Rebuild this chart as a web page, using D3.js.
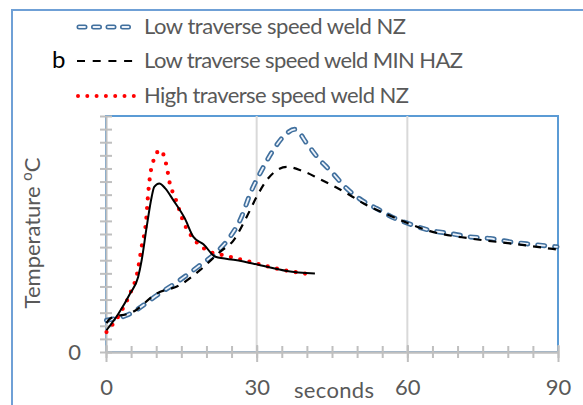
<!DOCTYPE html>
<html>
<head>
<meta charset="utf-8">
<script src="https://cdn.jsdelivr.net/npm/d3@7"></script>
<style>
  body { margin: 0; background: #fff; }
  svg text { font-family: Lato, "Open Sans", sans-serif; fill: #595959; }
</style>
</head>
<body>
<div id="chart"></div>
<script>
// Temperature curves (seconds vs. temperature)
var legendLabels = ["Low traverse speed weld NZ", "Low traverse speed weld MIN HAZ", "High traverse speed weld NZ"];
var xTickValues = [0, 30, 60, 90];

// low traverse speed, nugget zone
var lowNZ_t = [0.1, 4.1, 10.8, 14.7, 18.7, 22.1, 24.7, 26.7, 29.0, 31.0, 33.3, 36.0, 37.6, 40.0, 42.3, 44.9, 47.9, 50.9, 53.9, 57.6, 60.2, 64.5, 68.5, 72.5, 76.5, 80.5, 84.5, 89.8];
var lowNZ_T = [121, 140, 225, 274, 331, 382, 439, 503, 617, 693, 770, 834, 849, 795, 738, 687, 624, 579, 547, 509, 490, 464, 452, 439, 433, 420, 411, 401];

// low traverse speed, min HAZ
var lowHAZ_t = [0.1, 0.8, 5.4, 10.1, 14.7, 18.7, 22.7, 25.4, 28.0, 30.0, 32.0, 34.0, 36.0, 39.0, 42.3, 45.6, 48.6, 51.3, 54.9, 57.9, 64.5, 72.5, 80.5, 89.8];
var lowHAZ_T = [110, 127, 153, 223, 255, 312, 382, 426, 515, 592, 655, 693, 706, 691, 662, 630, 598, 566, 534, 509, 461, 433, 414, 391];

// high traverse speed, nugget zone
var highNZ_t = [0.1, 2.8, 4.8, 6.2, 7.1, 8.0, 8.4, 9.1, 10.8, 12.1, 12.7, 13.7, 15.7, 17.7, 20.7, 23.4, 28.7, 34.0, 40.3];
var highNZ_T = [76, 147, 223, 299, 401, 503, 605, 706, 770, 706, 643, 592, 484, 426, 382, 369, 344, 318, 297];

// high traverse speed, min HAZ (solid, not in legend)
var highHAZ_t = [0.1, 2.5, 4.8, 6.4, 7.1, 8.1, 9.1, 9.6, 10.6, 11.8, 13.4, 15.7, 17.4, 19.4, 21.8, 26.1, 30.7, 36.0, 41.6];
var highHAZ_T = [83, 147, 223, 286, 350, 477, 592, 630, 643, 624, 579, 509, 439, 411, 363, 350, 331, 309, 299];

function pairs(t, T) { return t.map(function (d, i) { return { t: d, T: T[i] }; }); }

var W = 583, H = 405;
var svg = d3.select("#chart").append("svg")
  .attr("width", W)
  .attr("height", H);

// outer chart border
svg.append("rect")
  .attr("x", 12).attr("y", 10)
  .attr("width", 620).attr("height", 430)
  .attr("fill", "none")
  .attr("stroke", "#6fa0d6")
  .attr("stroke-width", 2);

var xScale = d3.scaleLinear().domain([0, 90]).range([106, 558]);
var yScale = d3.scaleLinear().domain([0, 900]).range([352, 116]);

// plot area border
svg.append("rect")
  .attr("x", xScale(0)).attr("y", yScale(900))
  .attr("width", xScale(90) - xScale(0))
  .attr("height", yScale(0) - yScale(900))
  .attr("fill", "none")
  .attr("stroke", "#5b9bd5")
  .attr("stroke-width", 2);

// vertical gridlines
svg.selectAll(".grid")
  .data([30, 60])
  .enter().append("line")
  .attr("class", "grid")
  .attr("x1", d => xScale(d)).attr("x2", d => xScale(d))
  .attr("y1", yScale(900)).attr("y2", yScale(0))
  .attr("stroke", "#d9d9d9")
  .attr("stroke-width", 2);

// X axis: minor ticks
var xMinor = svg.append("g")
  .attr("transform", "translate(0," + yScale(0) + ")")
  .call(d3.axisBottom(xScale).tickValues(d3.range(0, 91, 5)).tickSize(6).tickSizeOuter(0).tickFormat(""));
xMinor.selectAll(".tick line").attr("y1", -6);

// X axis: major ticks + labels
var xMajor = svg.append("g")
  .attr("transform", "translate(0," + yScale(0) + ")")
  .call(d3.axisBottom(xScale).tickValues(xTickValues).tickSize(10).tickSizeOuter(0));
xMajor.selectAll(".tick line").attr("y1", -7);
xMajor.selectAll(".tick text").attr("y", 43).attr("dy", 0).style("font-size", "22px");

// Y axis
var yAxis = svg.append("g")
  .attr("transform", "translate(" + xScale(0) + ",0)")
  .call(d3.axisLeft(yScale).tickValues(d3.range(0, 901, 50)).tickSize(6).tickSizeOuter(0)
    .tickFormat(d => d === 0 ? "0" : "").tickPadding(19));
yAxis.selectAll(".tick line").attr("x1", 6);
yAxis.selectAll(".tick text").attr("dy", "0.36em").style("font-size", "22px");

svg.selectAll(".domain, .tick line")
  .attr("stroke", "#bfbfbf")
  .attr("stroke-width", 2);

// axis titles
svg.append("text")
  .attr("x", 334).attr("y", 398)
  .attr("text-anchor", "middle")
  .attr("textLength", 80)
  .style("font-size", "22px")
  .text("seconds");

var yTitle = svg.append("text")
  .attr("transform", "translate(40,233) rotate(-90)")
  .attr("text-anchor", "middle")
  .style("font-size", "22px");
yTitle.append("tspan").text("Temperature ");
yTitle.append("tspan").attr("dy", -8).style("font-size", "15px").text("o");
yTitle.append("tspan").attr("dy", 8).text("C");

// series
var line = d3.line()
  .x(d => xScale(d.t))
  .y(d => yScale(d.T))
  .curve(d3.curveMonotoneX);

var plot = svg.append("g");

// blue double-stroke dashed
plot.append("path")
  .datum(pairs(lowNZ_t, lowNZ_T))
  .attr("d", line)
  .attr("fill", "none")
  .attr("stroke", "#41709e")
  .attr("stroke-width", 5)
  .attr("stroke-linecap", "round")
  .attr("stroke-dasharray", "7 10");
plot.append("path")
  .datum(pairs(lowNZ_t, lowNZ_T))
  .attr("d", line)
  .attr("fill", "none")
  .attr("stroke", "#eef3fa")
  .attr("stroke-width", 1.8)
  .attr("stroke-linecap", "round")
  .attr("stroke-dasharray", "7 10");

plot.append("path")
  .datum(pairs(lowHAZ_t, lowHAZ_T))
  .attr("d", line)
  .attr("fill", "none")
  .attr("stroke", "#000")
  .attr("stroke-width", 2.2)
  .attr("stroke-dasharray", "8 7");

plot.append("path")
  .datum(pairs(highNZ_t, highNZ_T))
  .attr("d", line)
  .attr("fill", "none")
  .attr("stroke", "#ff0000")
  .attr("stroke-width", 4.2)
  .attr("stroke-linecap", "round")
  .attr("stroke-dasharray", "0 9.5");

plot.append("path")
  .datum(pairs(highHAZ_t, highHAZ_T))
  .attr("d", line)
  .attr("fill", "none")
  .attr("stroke", "#000")
  .attr("stroke-width", 2);

// legend
var legendY = [27, 61, 96];
var legendWidths = [262, 319, 265];
var leg = svg.append("g");

leg.append("line").attr("x1", 79).attr("x2", 135).attr("y1", legendY[0]).attr("y2", legendY[0])
  .attr("stroke", "#41709e").attr("stroke-width", 5).attr("stroke-linecap", "round").attr("stroke-dasharray", "6 8.5");
leg.append("line").attr("x1", 79).attr("x2", 135).attr("y1", legendY[0]).attr("y2", legendY[0])
  .attr("stroke", "#eef3fa").attr("stroke-width", 1.8).attr("stroke-linecap", "round").attr("stroke-dasharray", "6 8.5");
leg.append("line").attr("x1", 77).attr("x2", 133).attr("y1", legendY[1]).attr("y2", legendY[1])
  .attr("stroke", "#000").attr("stroke-width", 2.2).attr("stroke-dasharray", "8 7.7");
leg.append("line").attr("x1", 78).attr("x2", 134).attr("y1", legendY[2]).attr("y2", legendY[2])
  .attr("stroke", "#ff0000").attr("stroke-width", 4).attr("stroke-linecap", "round").attr("stroke-dasharray", "0 9.3");

leg.selectAll(".legtext")
  .data(legendLabels)
  .enter().append("text")
  .attr("class", "legtext")
  .attr("x", 144)
  .attr("y", (d, i) => legendY[i] + 6.5)
  .attr("textLength", (d, i) => legendWidths[i])
  .style("font-size", "22px")
  .text(d => d);

svg.append("text")
  .attr("x", 52).attr("y", 68)
  .style("font-size", "24px")
  .style("fill", "#000")
  .text("b");
</script>
</body>
</html>
